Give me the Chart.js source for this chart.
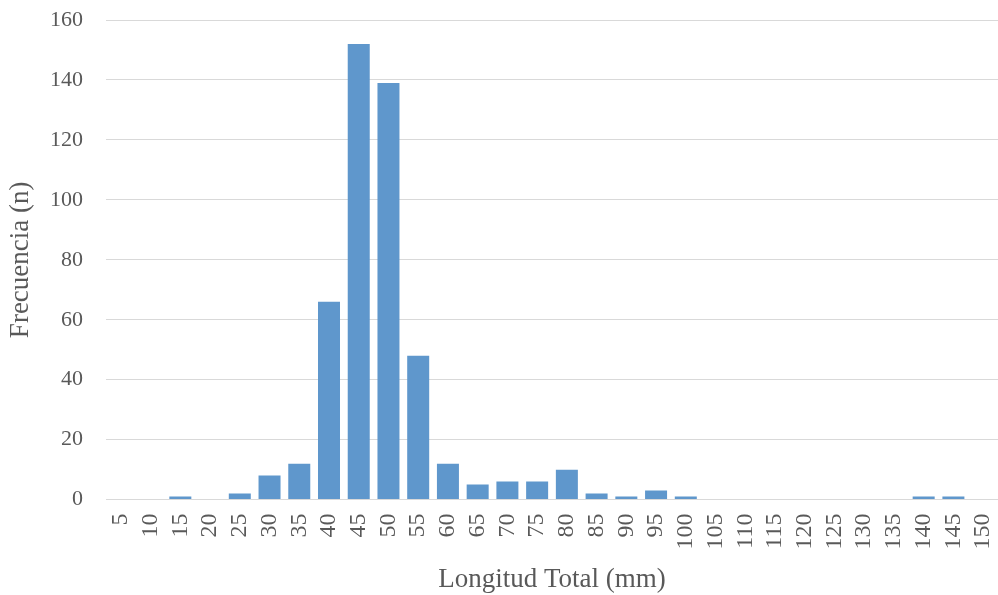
<!DOCTYPE html>
<html>
<head>
<meta charset="utf-8">
<script src="https://cdn.jsdelivr.net/npm/chart.js@4"></script>
<style>
  html, body { margin: 0; padding: 0; background: #fff; }
  #wrap { width: 998px; height: 595px; }
</style>
</head>
<body>
<div id="wrap"><canvas id="chart"></canvas></div>
<script>
// Length classes (mm) and counts
const lengthClasses = ['5', '10', '15', '20', '25', '30', '35', '40', '45', '50',
    '55', '60', '65', '70', '75', '80', '85', '90', '95', '100',
    '105', '110', '115', '120', '125', '130', '135', '140', '145', '150'];
const frequencies = [0, 0, 1, 0, 2, 8, 12, 66, 152, 139,
    48, 12, 5, 6, 6, 10, 2, 1, 3, 1,
    0, 0, 0, 0, 0, 0, 0, 1, 1, 0];
const yTicks = [0, 20, 40, 60, 80, 100, 120, 140, 160];

const textColor = '#595959';
const serif = "'Liberation Serif', 'Times New Roman', serif";

const ctx = document.getElementById('chart').getContext('2d');
new Chart(ctx, {
    type: 'bar',
    data: {
        labels: lengthClasses,
        datasets: [{
            data: frequencies,
            backgroundColor: '#5f97cc',
            barPercentage: 0.74,
            categoryPercentage: 1.0
        }]
    },
    options: {
        responsive: true,
        maintainAspectRatio: false,
        animation: false,
        layout: { padding: { top: 20, right: 0, left: 1, bottom: -5 } },
        plugins: {
            legend: { display: false },
            tooltip: { enabled: false }
        },
        scales: {
            x: {
                afterFit: (axis) => { axis.paddingLeft = 0; axis.paddingRight = 0; },
                grid: { display: false, drawTicks: false },
                border: { color: '#d9d9d9', width: 1 },
                ticks: {
                    color: textColor,
                    font: { family: serif, size: 24 },
                    minRotation: 90,
                    maxRotation: 90,
                    padding: 14,
                    autoSkip: false
                },
                title: {
                    display: true,
                    text: 'Longitud Total (mm)',
                    color: textColor,
                    font: { family: serif, size: 27 },
                    padding: { top: 0 }
                }
            },
            y: {
                min: 0,
                max: 160,
                afterBuildTicks: (axis) => { axis.ticks = yTicks.map(v => ({ value: v })); },
                afterFit: (axis) => { axis.width = 105; axis.paddingTop = 0; axis.paddingBottom = 0; },
                grid: { color: '#d9d9d9', drawTicks: false },
                border: { display: false },
                ticks: {
                    color: textColor,
                    font: { family: serif, size: 22 },
                    padding: 23
                },
                title: {
                    display: true,
                    text: 'Frecuencia (n)',
                    color: textColor,
                    font: { family: serif, size: 27 },
                    padding: { bottom: 0 }
                }
            }
        }
    }
});
</script>
</body>
</html>
